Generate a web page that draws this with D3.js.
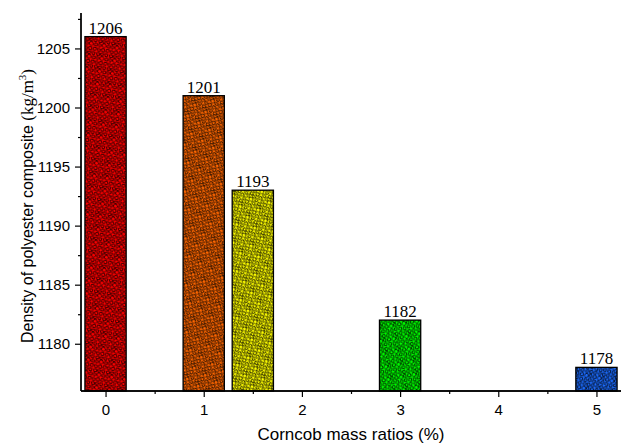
<!DOCTYPE html>
<html>
<head>
<meta charset="utf-8">
<script src="https://cdn.jsdelivr.net/npm/d3@7"></script>
<style>
  body { margin: 0; background: #fff; }
  svg { display: block; }
</style>
</head>
<body>
<svg id="chart" width="627" height="444"></svg>
<script>
// data
const ratios = [0, 1, 1.5, 3, 5];           // corncob mass ratio (%)
const densities = [1206, 1201, 1193, 1182, 1178]; // kg/m3
const barColors = ["#ff0000", "#ff6600", "#ffff00", "#00ff00", "#1c6cff"];
const xTicks = [0, 1, 2, 3, 4, 5];
const yTicks = [1180, 1185, 1190, 1195, 1200, 1205];

var svg = d3.select("#chart"),
    margin = {top: 13, right: 6, bottom: 53, left: 81},
    width = +svg.attr("width") - margin.left - margin.right,
    height = +svg.attr("height") - margin.top - margin.bottom;

var x = d3.scaleLinear().domain([-0.25, 5.25]).range([0, width]);
var y = d3.scaleLinear().domain([1176, 1208]).range([height, 0]);
var barW = x(0.42) - x(0);

// squiggly "polygon" fill like the Origin pattern, one per colour
var defs = svg.append("defs");
var cells = [
  "M0.8,0.8 Q2.5,0 3.8,0.6 L4.6,3 Q3,4.4 2.4,4.2 L0.4,3.2Z",
  "M6,0.8 L8.8,1.4 Q8.8,3 8.2,4 L5.8,3.6Z",
  "M10.2,0.4 L12.4,1.6 L11.8,4.2 Q10.4,4 9.8,3.4Z",
  "M0.6,5.8 Q2,5 3.4,5.4 L4,8.2 L1.2,8.8Z",
  "M5.4,5.4 L8.4,5.6 Q8.2,7.4 7.6,8.4 L5,7.8Z",
  "M9.6,5.8 L12.4,6.2 L12,9 Q10.6,9 9.8,8.4Z",
  "M0.4,10.4 L3.4,10 Q3.4,11.6 3,12.6 L0.8,12.4Z",
  "M4.8,9.8 L7.8,10.2 L7.4,12.6 Q5.8,12.8 5,12.4Z",
  "M9.2,10.4 Q11,9.8 12.4,10.2 L12.6,12.6 L9.6,12.4Z"
];
barColors.forEach(function(c, i) {
  var p = defs.append("pattern")
      .attr("id", "pat" + i)
      .attr("patternUnits", "userSpaceOnUse")
      .attr("width", 13).attr("height", 13)
      .attr("patternTransform", "rotate(" + (i * 23 + 10) + ")");
  p.append("rect").attr("width", 13).attr("height", 13).attr("fill", c);
  p.selectAll("path").data(cells).enter().append("path")
      .attr("d", function(d) { return d; })
      .attr("fill", "none")
      .attr("stroke", "#000")
      .attr("stroke-width", 0.75);
});

var g = svg.append("g").attr("transform", "translate(" + margin.left + "," + margin.top + ")");

var bars = ratios.map(function(r, i) { return {x: r, v: densities[i], i: i}; });

g.selectAll("rect.bar").data(bars).enter().append("rect")
    .attr("class", "bar")
    .attr("x", function(d) { return x(d.x) - barW / 2; })
    .attr("y", function(d) { return y(d.v); })
    .attr("width", barW)
    .attr("height", function(d) { return height - y(d.v); })
    .attr("fill", function(d) { return "url(#pat" + d.i + ")"; })
    .attr("stroke", "#000")
    .attr("stroke-width", 1.3);

g.selectAll("text.lab").data(bars).enter().append("text")
    .attr("class", "lab")
    .attr("x", function(d) { return x(d.x); })
    .attr("y", function(d) { return y(d.v) - 3; })
    .attr("text-anchor", "middle")
    .attr("font-family", "'Liberation Serif', 'Times New Roman', serif")
    .attr("font-size", "17px")
    .attr("fill", "#000")
    .text(function(d) { return d.v; });

// axes: major + minor ticks
g.append("g").attr("transform", "translate(0," + height + ")")
    .call(d3.axisBottom(x).tickValues(xTicks).tickSize(6).tickPadding(7).tickFormat(d3.format("d")));
g.append("g").attr("transform", "translate(0," + height + ")")
    .call(d3.axisBottom(x).tickValues(xTicks.slice(0, -1).map(function(t) { return t + 0.5; }))
        .tickSize(3).tickFormat(""));
g.append("g")
    .call(d3.axisLeft(y).tickValues(yTicks).tickSize(6).tickPadding(5).tickFormat(d3.format("d")));
g.append("g")
    .call(d3.axisLeft(y).tickValues(yTicks.map(function(t) { return t + 2.5; })).tickSize(3).tickFormat(""));

g.selectAll(".domain").attr("stroke", "#000").attr("stroke-width", 1.3);
g.selectAll(".tick line").attr("stroke", "#000").attr("stroke-width", 1.2);
g.selectAll(".tick text")
    .attr("font-family", "'Liberation Sans', Arial, sans-serif")
    .attr("font-size", "15px")
    .attr("fill", "#000");
// no outer end caps on the axis lines
g.selectAll(".domain").attr("d", function() {
  return d3.select(this.parentNode).attr("transform") ?
    "M0,0H" + width : "M0,0V" + height;
});

// axis titles
svg.append("text")
    .attr("x", margin.left + width / 2)
    .attr("y", 440)
    .attr("text-anchor", "middle")
    .attr("font-family", "'Liberation Sans', Arial, sans-serif")
    .attr("font-size", "17px")
    .text("Corncob mass ratios (%)");

var yt = svg.append("text")
    .attr("transform", "translate(33,206) rotate(-90)")
    .attr("text-anchor", "middle")
    .attr("font-family", "'Liberation Sans', Arial, sans-serif")
    .attr("font-size", "16px");
yt.append("tspan").text("Density of polyester composite ");
yt.append("tspan").attr("font-family", "'Liberation Serif', 'Times New Roman', serif")
    .attr("font-size", "17px").text("(kg/m");
yt.append("tspan").attr("font-family", "'Liberation Serif', 'Times New Roman', serif")
    .attr("font-size", "11px").attr("dy", "-7").text("3");
yt.append("tspan").attr("font-family", "'Liberation Serif', 'Times New Roman', serif")
    .attr("font-size", "17px").attr("dy", "7").text(")");
</script>
</body>
</html>
